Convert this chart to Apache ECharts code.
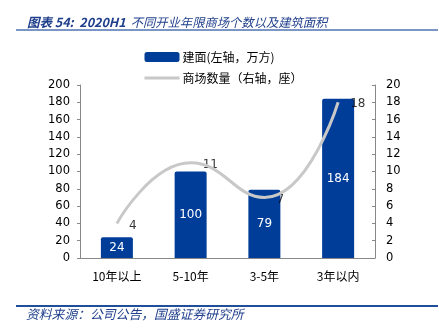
<!DOCTYPE html>
<html><head><meta charset="utf-8">
<script src="https://cdn.jsdelivr.net/npm/echarts@6/dist/echarts.min.js"></script>
<style>html,body{margin:0;padding:0;background:#fff}#c{width:439px;height:331px}</style>
</head><body><div id="c"></div>
<script>
const categories = ['10年以上', '5-10年', '3-5年', '3年以内'];
const areaValues = [24, 100, 79, 184];
const mallCounts = [4, 11, 7, 18];
const leftTicks = {min: 0, max: 200, interval: 20};
const rightTicks = {min: 0, max: 20, interval: 2};
const titleHead = '图表 54:  2020H1';
const titleTail = '不同开业年限商场个数以及建筑面积';
const sourceText = '资料来源：公司公告，国盛证券研究所';
const seriesNames = ['建面(左轴，万方)', '商场数量（右轴，座）'];

const chart = echarts.init(document.getElementById('c'));
const numFont = 'DejaVu Sans';
const cjk = '"Noto Sans CJK SC", sans-serif';
chart.setOption({
  animation: false,
  title: {
    text: '{h|' + titleHead + '} {t|' + titleTail + '}', left: 22, top: 8,
    textStyle: {
      rich: {
        h: {fontSize: 12.5, fontStyle: 'italic', fontWeight: 'bold', color: '#1f3f8c', fontFamily: cjk},
        t: {fontSize: 12.3, fontStyle: 'italic', fontWeight: 'normal', color: '#1f3f8c', fontFamily: cjk}
      }
    }
  },
  graphic: [
    {type: 'line', shape: {x1: 16, y1: 30, x2: 438, y2: 30}, style: {stroke: '#4f72b0', lineWidth: 1.5}},
    {type: 'line', shape: {x1: 16, y1: 306, x2: 438, y2: 306}, style: {stroke: '#1f4e9a', lineWidth: 2}},
    {type: 'text', left: 26, top: 308, style: {text: sourceText, fill: '#1f3f8c', font: 'italic 12.8px "Noto Sans CJK SC"'}}
  ],
  legend: {
    orient: 'vertical', left: 138, top: 46, itemWidth: 35, itemHeight: 10, itemGap: 9,
    textStyle: {fontSize: 12, fontFamily: cjk, color: '#000', padding: [0, 0, 0, -2]},
    data: [
      {name: seriesNames[0], icon: 'roundRect'},
      {name: seriesNames[1], itemStyle: {opacity: 0}, lineStyle: {color: '#c8c8c8', width: 3}}
    ]
  },
  grid: {left: 80, right: 64, top: 85, bottom: 73},
  xAxis: {
    type: 'category', data: categories,
    axisLine: {lineStyle: {color: '#888', width: 1}},
    axisTick: {inside: true, length: 4, lineStyle: {color: '#888'}},
    axisLabel: {fontSize: 12, color: '#000', fontFamily: cjk, margin: 12}
  },
  yAxis: [
    {
      type: 'value', min: leftTicks.min, max: leftTicks.max, interval: leftTicks.interval,
      splitLine: {show: false},
      axisLine: {show: true, lineStyle: {color: '#888'}},
      axisTick: {show: true, length: 3, lineStyle: {color: '#888'}},
      axisLabel: {fontSize: 11.5, color: '#000', fontFamily: numFont, margin: 10}
    },
    {
      type: 'value', min: rightTicks.min, max: rightTicks.max, interval: rightTicks.interval,
      splitLine: {show: false},
      axisLine: {show: true, lineStyle: {color: '#888'}},
      axisTick: {show: true, inside: true, length: 3, lineStyle: {color: '#888'}},
      axisLabel: {fontSize: 11.5, color: '#000', fontFamily: numFont, margin: 11}
    }
  ],
  series: [
    {
      name: seriesNames[0], type: 'bar', data: areaValues, barWidth: 32, yAxisIndex: 0,
      itemStyle: {color: '#003d99', borderRadius: [2, 2, 0, 0]},
      label: {show: true, position: 'inside', color: '#fff', fontSize: 12, fontFamily: numFont}
    },
    {
      name: seriesNames[1], type: 'line', data: mallCounts, yAxisIndex: 1, smooth: 0.5,
      symbol: 'none', lineStyle: {color: '#c8c8c8', width: 3}, itemStyle: {color: '#c8c8c8'}
    },
    {
      name: 'labels', type: 'scatter', data: mallCounts, yAxisIndex: 1, symbolSize: 0,
      itemStyle: {color: 'transparent'}, silent: true,
      label: {show: true, position: 'right', distance: 12, color: '#000', fontSize: 12, fontFamily: numFont, offset: [0, 2]}
    }
  ]
});
</script></body></html>
